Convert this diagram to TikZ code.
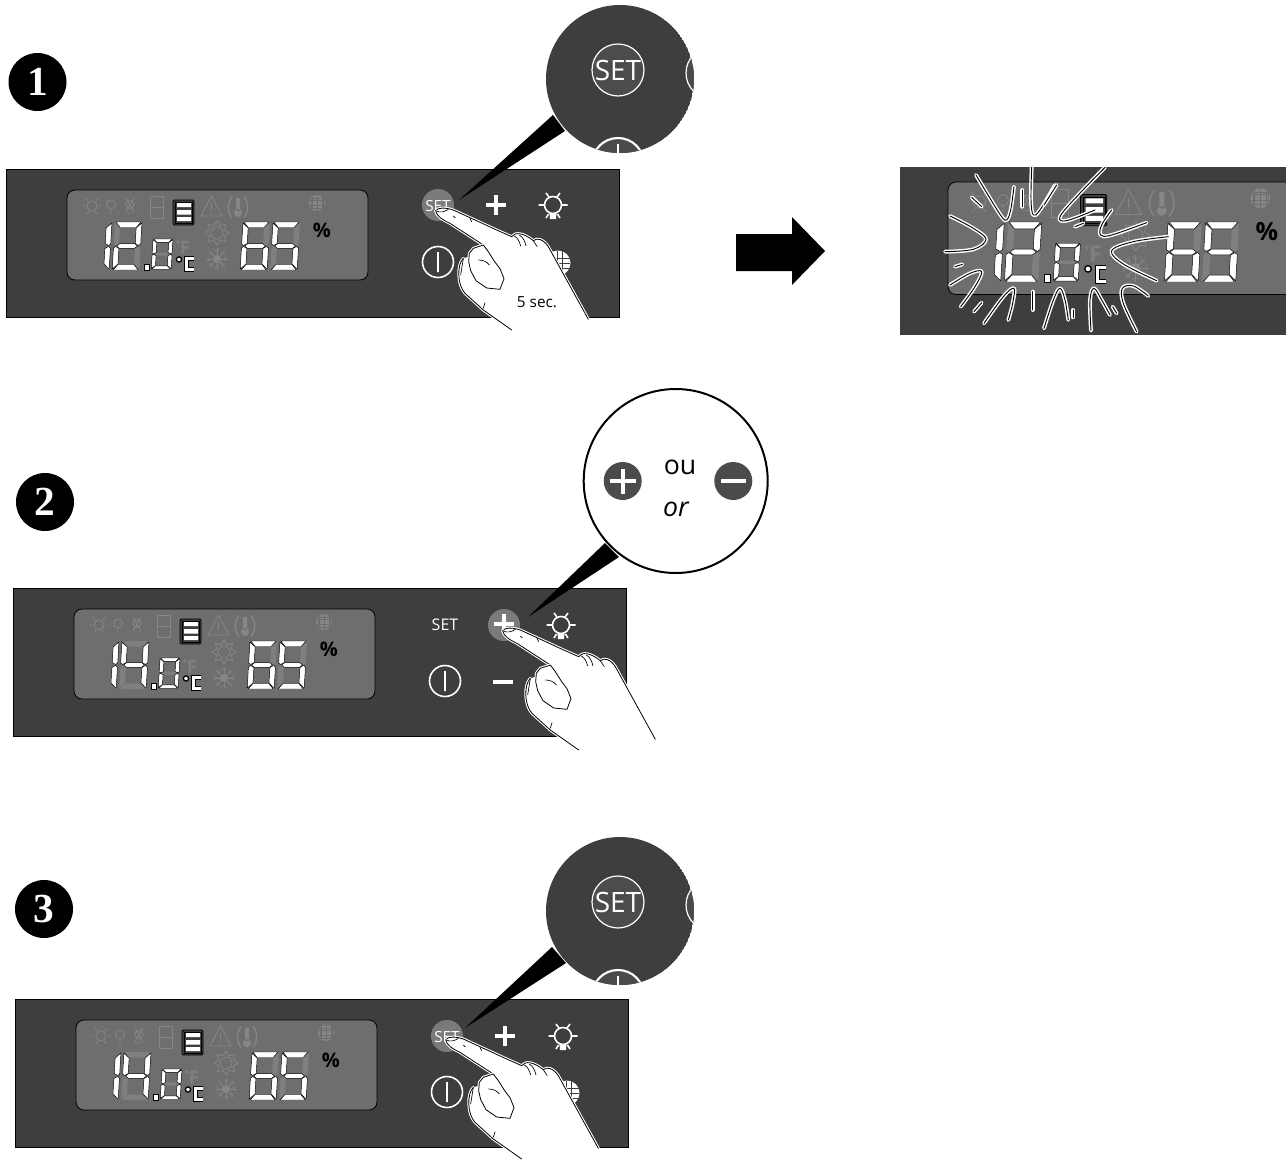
\documentclass[tikz,border=0pt]{standalone}
\usepackage{fontspec}
\setmainfont{Open Sans}
\newfontfamily\numfont{Liberation Serif}
\definecolor{pan}{HTML}{3F3E3D}
\definecolor{lcdc}{HTML}{6E6E6C}
\definecolor{ghost}{HTML}{7F7F7D}
\definecolor{ghic}{HTML}{868684}
\definecolor{btn}{HTML}{7A7A78}
\definecolor{disc}{HTML}{4B4B4A}
\tikzset{
  litseg/.style={fill=white,draw=black,line width=.35pt,line join=round},
  ghostseg/.style={fill=ghost},
  ic/.style={draw=ghic,line width=.65pt},
  wl/.style={draw=white,line width=1.2pt},
  badge/.style={circle,fill=black,text=white,minimum size=58*.75pt,inner sep=0pt,font=\numfont\bfseries\fontsize{31}{31}\selectfont},
  txt/.style={text=white,inner sep=0pt}
}
% seven-segment geometry (27 x 48 px)
\def\sga{(1,0)--(26,0)--(21.5,5.5)--(5.5,5.5)--cycle}
\def\sgb{(27,1)--(27,22)--(25,23.5)--(21.5,21.5)--(21.5,6)--cycle}
\def\sgc{(27,26)--(27,47)--(21.5,42)--(21.5,26.5)--(25,24.5)--cycle}
\def\sgd{(1,48)--(26,48)--(21.5,42.5)--(5.5,42.5)--cycle}
\def\sge{(0,26)--(2,24.5)--(5.5,26.5)--(5.5,42)--(0,47)--cycle}
\def\sgf{(0,1)--(5.5,6)--(5.5,21.5)--(2,23.5)--(0,22)--cycle}
\def\sgg{(3,24)--(6,21.7)--(21,21.7)--(24,24)--(21,26.3)--(6,26.3)--cycle}
\def\sgz{}
\def\doseg#1#2{\expandafter\dosegh\csname sg#2\endcsname{#1}}
\def\dosegh#1#2{\path[#2] #1;}
\newcommand\dg[6]{\begin{scope}[shift={(#1,#2)},xslant=.06,xscale=#3,yscale=#4]
  \foreach \s in {#6}{\doseg{ghostseg}{\s}}
  \foreach \s in {#5}{\doseg{litseg}{\s}}
\end{scope}}
% flash / hand line: black core in a white halo
\newcommand\hal[1]{\draw[white,line width=2.2pt,line cap=round,line join=round] #1; \draw[black,line width=.6pt,line cap=round,line join=round] #1;}
\newcommand\flsh[1]{\draw[white,line width=2.9pt,line cap=round,line join=round] #1; \draw[black,line width=.7pt,line cap=round,line join=round] #1;}
\newcommand\lightic[3]{\begin{scope}[shift={(#1,#2)}]
  \draw[#3,line width=1.2pt] (0,0) circle (8.5);
  \draw[#3,line width=1.2pt] (-14.5,0)--(-9,0) (9,0)--(14.5,0) (-7,-12)--(-4,-8) (7,-12)--(4,-8) (-7,13)--(-4.5,9) (7,13)--(4.5,9);
  \fill[#3] (-3.5,8)--(3.5,8)--(3,14)--(-3,14)--cycle;
\end{scope}}
% LCD content; origin is the top-left corner of the dark panel
\newcommand\lcd[1]{
  \draw[black,line width=.6pt,fill=lcdc,rounded corners=6] (61,21) rectangle (362,111);
  % faint icons
  \draw[ic] (86,37) circle (5);
  \draw[ic] (76,37)--(79,37) (93,37)--(96,37) (80,29)--(82,32) (92,29)--(90,32) (81,45)--(83,42) (91,45)--(89,42);
  \draw[ic] (105,35.5) circle (4.5) (105,40)--(105,45);
  \draw[ic] (124,35.5) circle (4) (120,29)--(128,43) (128,29)--(120,43) (121,44)--(127,44);
  \draw[ic] (144,27) rectangle (157,49) (144,38)--(157,38);
  \draw[ic,line join=round] (205.5,27)--(216,47)--(195,47)--cycle (205.5,34)--(205.5,41) (205.5,43)--(205.5,44.5);
  \fill[ghic] (232,44) circle (4) (230,29) rectangle (234,42);
  \draw[ic,line width=1pt] (226,27.5) .. controls (221,34) and (221,42) .. (226,48.5) (238,27.5) .. controls (243,34) and (243,42) .. (238,48.5);
  \fill[ghic] (311,34) circle (8);
  \draw[lcdc,line width=.4pt] (306,28)--(306,40) (311,26)--(311,42) (316,28)--(316,40) (304,31)--(318,31) (303,36)--(319,36) (305,29) rectangle (317,39);
  \draw[ic,line join=round] plot[samples at={0,22.5,...,360}] ({211+(10+2*cos(8*\x))*cos(\x)},{64+(10+2*cos(8*\x))*sin(\x)});
  \draw[ic] (211,64) circle (6);
  \foreach \a in {0,45,...,315}{\draw[ic] (211,90)--({211+11*cos(\a)},{90+11*sin(\a)});
     \draw[ic,line width=.4pt] ({211+10*cos(\a+16)},{90+10*sin(\a+16)})--({211+7*cos(\a)},{90+7*sin(\a)})--({211+10*cos(\a-16)},{90+10*sin(\a-16)});}
  \fill[ghic] (211,90) circle (4);
  \node[inner sep=0pt,text=ghost,font=\bfseries\fontsize{14}{14}\selectfont,transform shape] (fgh) at (179,79) {F};
  \draw[ghic,line width=.5pt] (172,73) circle (1.4);
  % active symbol
  \draw[black,line width=.7pt,fill=pan,rounded corners=1] (167,31) rectangle (188,56);
  \draw[black,line width=.4pt] (169,33) rectangle (186.5,54);
  \fill[white] (171,34) rectangle (185,38) (171,41) rectangle (185,45.5) (171,48) rectangle (185,52);
  % digits
  \dg{79}{53}{1}{1}{b,c}{z}
  \ifnum#1=2 \dg{109}{53}{1}{1}{a,b,g,e,d}{f,c}\else \dg{109}{53}{1}{1}{f,b,g,c}{a,e,d}\fi
  \path[litseg] (138,95) rectangle (143,101);
  \dg{147}{70}{.74}{.63}{a,b,c,d,e,f}{g}
  \draw[black,line width=1pt,fill=white] (173,90.5) circle (2.6);
  \draw[black,line width=3.3pt] (187.5,89.5)--(180.5,89.5)--(180.5,100.5)--(187.5,100.5);
  \draw[white,line width=2.2pt] (187.5,89.5)--(180.5,89.5)--(180.5,100.5)--(187.5,100.5);
  \dg{237}{53}{1}{1}{a,f,g,c,d,e}{b}
  \dg{267}{53}{1}{1}{a,f,g,c,d}{b,e}
  \node[inner sep=0pt,text=black,font=\bfseries\fontsize{15}{15}\selectfont,transform shape] (pct) at (316,61) {\%};
}
\newcommand\panelbg{\draw[black,line width=.6pt,fill=pan] (0,0) rectangle (613.5,148);}
\newcommand\griddisc{
  \fill[white] (552,94) circle (12.5);
  \draw[pan,line width=.5pt] (546,82)--(546,106) (551,82)--(551,106) (556,82)--(556,106) (540,89)--(564,89) (540,94)--(564,94) (540,99)--(564,99);
}
\newcommand\powerbtn{\draw[wl] (432,93) circle (15.5) (432,83)--(432,103);}
\newcommand\plusbtn[2]{\draw[white,line width=2.8pt] (#1-10,#2)--(#1+10,#2) (#1,#2-10)--(#1,#2+10);}
\newcommand\fingerhand[2]{\begin{scope}[shift={(#1,#2)},x=.25pt,y=-.25pt]
  \fill[white] (47,92) .. controls (55,82) and (75,82) .. (100,90) -- (230,150) -- (275,170)
     .. controls (285,155) and (310,158) .. (340,182) .. controls (352,172) and (370,178) .. (385,200)
     -- (505,418) -- (275,450) -- (190,390) -- (135,340) .. controls (112,315) and (110,255) .. (130,235)
     -- (148,230) -- (150,212) -- (190,195) -- (90,130) .. controls (65,118) and (50,108) .. (47,92) -- cycle;
  \hal{(47,92) .. controls (55,82) and (75,82) .. (100,90) -- (230,150) -- (275,170) .. controls (285,155) and (310,158) .. (340,182) .. controls (352,172) and (370,178) .. (385,200) -- (505,418)}
  \hal{(275,450) -- (190,390) -- (135,340) .. controls (112,315) and (110,255) .. (130,235)}
  \hal{(190,195) -- (90,130) .. controls (65,118) and (50,108) .. (47,92)}
  \hal{(190,195) -- (160,205) -- (148,220) -- (146,245) -- (152,272) -- (168,302) -- (200,324) -- (240,328) -- (252,296) -- (240,266) -- (224,245) -- (205,215) -- cycle}
  \draw[black,line width=.5pt] (47,92) .. controls (60,100) and (75,95) .. (85,88)
    (150,115)--(155,125) (100,108)--(106,114)
    (175,240) .. controls (190,240) and (200,245) .. (208,255)
    (130,235)--(122,285) (195,368)--(190,385)
    (283,168) .. controls (295,175) and (298,185) .. (302,198)
    (298,165) .. controls (310,172) and (315,185) .. (318,198)
    (340,182) .. controls (345,190) and (348,195) .. (352,200);
\end{scope}}
% dark zoom bubble for SET
\newcommand\setbubble[6]{
  \fill[black] (#3,#4)--(#5)--(#6)--cycle;
  \begin{scope}
    \clip (#1,#2) circle (74);
    \fill[pan] (#1,#2) circle (74);
    \draw[white,line width=.9pt,fill=pan!93!white] (#1-2,#2-9) circle (26);
    \node[txt,font=\fontsize{21}{21}\selectfont] (s#1#2) at (#1-2,#2-9) {SET};
    \draw[white,line width=.9pt,fill=disc] (#1+92,#2-6) circle (26);
    \draw[white,line width=1.6pt,fill=disc] (#1-2,#2+85) circle (26);
    \fill[white] (#1-3,#2+65) rectangle (#1-1,#2+80);
  \end{scope}
}
\begin{document}
\begin{tikzpicture}[x=.75pt,y=-.75pt]
\useasboundingbox (0,0) rectangle (1286,1164);
\fill[white] (0,0) rectangle (1286,1164);

\node[badge] (n1) at (37.5,82) {1};
\node[badge] (n2) at (45,502) {2};
\node[badge] (n3) at (44,909) {3};

% ---------- panel 1
\begin{scope}[shift={(6,169)}]
  \panelbg \lcd{2}
  \fill[btn] (432,36) circle (16);
  \node[txt,font=\fontsize{11.5}{12}\selectfont] (set1) at (432,37) {SET};
  \plusbtn{490}{36}
  \lightic{547}{36}{white}
  \powerbtn
  \griddisc
\end{scope}
\setbubble{620}{79}{459}{200}{553,115}{565,131}
\fingerhand{420}{180}
\node[inner sep=0pt,font=\fontsize{11.5}{12}\selectfont] (sec) at (537,302) {5 sec.};

% ---------- arrow
\fill[black] (736,234)--(792,234)--(792,217)--(825,251)--(792,285)--(792,271)--(736,271)--cycle;

% ---------- blinking panel
\begin{scope}
  \clip (900,167) rectangle (1286,335);
  \fill[pan] (900,167) rectangle (1286,335);
  \begin{scope}[shift={(871.75,155.75)},scale=1.25]
    \lcd{2}
  \end{scope}
\end{scope}
\begin{scope}[shift={(890,160)},x=.25pt,y=-.25pt]
  \flsh{plot[smooth,tension=.6] coordinates {(258,45)(300,115)(335,170)(350,180)(362,150)(372,80)}}
  \flsh{plot[smooth,tension=.6] coordinates {(425,22)(423,120)(430,165)(450,150)(495,75)}}
  \flsh{plot[smooth,tension=.6] coordinates {(645,22)(560,110)(510,170)(530,182)(615,150)}}
  \flsh{plot[smooth,tension=.6] coordinates {(665,150)(635,195)(632,225)(665,225)(770,188)}}
  \flsh{plot[smooth,tension=.6] coordinates {(835,230)(730,245)(665,272)(700,312)(800,362)}}
  \flsh{plot[smooth,tension=.6] coordinates {(180,168)(250,205)(288,238)(250,268)(165,275)}}
  \flsh{plot[smooth,tension=.6] coordinates {(180,375)(240,340)(275,335)(255,380)(212,440)}}
  \flsh{plot[smooth,tension=.6] coordinates {(282,490)(340,410)(372,385)(368,430)(355,480)}}
  \flsh{plot[smooth,tension=.6] coordinates {(462,505)(490,420)(510,385)(525,420)(535,480)}}
  \flsh{plot[smooth,tension=.6] coordinates {(603,512)(600,420)(612,385)(635,420)(660,465)}}
  \flsh{plot[smooth,tension=.6] coordinates {(740,515)(700,430)(697,385)(730,378)(775,408)}}
  \flsh{(195,320)--(217,313)}
  \flsh{(245,112)--(275,140)}
  \flsh{(397,90)--(397,140)}
  \flsh{(428,395)--(428,450)}
  \flsh{(252,455)--(275,428)}
  \flsh{(549,450)--(549,472)}
  \flsh{(668,440)--(680,460)}
  \flsh{(555,200)--(580,190)}
  \flsh{(500,75)--(462,135)}
\end{scope}

% ---------- panel 2
\begin{scope}[shift={(13,588)}]
  \panelbg \lcd{4}
  \fill[btn] (491,37) circle (16);
  \node[txt,font=\fontsize{12}{12}\selectfont] (set2) at (432,37) {SET};
  \plusbtn{491}{36}
  \lightic{548}{37}{white}
  \powerbtn
  \draw[white,line width=2.8pt] (480,94)--(500,94);
\end{scope}
\fill[black] (528,617)--(605,543)--(619,557)--cycle;
\draw[black,line width=1.5pt,fill=white] (675.7,481) circle (92);
\fill[disc] (622.7,481) circle (19);
\draw[white,line width=3.2pt] (610,481)--(635.5,481) (622.7,468.5)--(622.7,493.5);
\fill[disc] (733.3,481) circle (19);
\draw[white,line width=3.2pt] (721,481)--(746,481);
\node[inner sep=0pt,text=black,font=\fontsize{20}{20}\selectfont] (ou) at (680,467) {ou};
\node[inner sep=0pt,text=black,font=\itshape\fontsize{20}{20}\selectfont] (or) at (676,509) {or};
\fingerhand{487}{600}

% ---------- panel 3
\begin{scope}[shift={(15,999)}]
  \panelbg \lcd{4}
  \fill[btn] (432,37) circle (16);
  \node[txt,font=\fontsize{11.5}{12}\selectfont] (set3) at (432,38) {SET};
  \plusbtn{490}{37}
  \lightic{548}{37}{white}
  \powerbtn
  \griddisc
\end{scope}
\setbubble{620}{911}{465}{1028}{552,947}{566,963}
\fingerhand{430}{1009}
\end{tikzpicture}
\end{document}
